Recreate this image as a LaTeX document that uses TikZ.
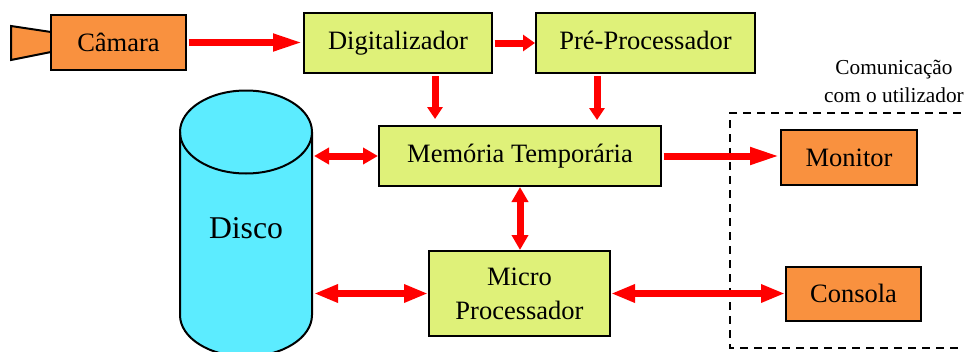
\documentclass[tikz,border=0pt]{standalone}
\usepackage{fontspec}
\setmainfont{Liberation Serif}
\usetikzlibrary{arrows.meta}

\definecolor{caixa}{HTML}{DFF179}
\definecolor{laranja}{HTML}{F9913F}
\definecolor{disco}{HTML}{5CECFF}

\tikzset{
  bloco/.style={draw=black, line width=2pt, outer sep=1pt, inner sep=0pt, align=center, font=\fontsize{26.5}{34}\selectfont},
  proc/.style={bloco, fill=caixa},
  extern/.style={bloco, fill=laranja},
  flow/.style={draw=red, line width=7pt, shorten <=1.5pt, -{Triangle[length=30pt,width=16pt]}},
  flowshort/.style={draw=red, line width=7pt, shorten <=1.5pt, -{Triangle[length=12pt,width=16pt]}},
  flowdown/.style={draw=red, line width=7pt, -{Triangle[length=12pt,width=15pt]}},
  flowboth/.style={draw=red, line width=7pt, {Triangle[length=15pt,width=16pt]}-{Triangle[length=15pt,width=16pt]}},
  flowlong/.style={draw=red, line width=7pt, {Triangle[length=24pt,width=17pt]}-{Triangle[length=24pt,width=17pt]}},
}

\begin{document}
\begin{tikzpicture}[x=1pt, y=-1pt]
\useasboundingbox (0,0) rectangle (964,351);
\clip (0,0) rectangle (964,351);
% camera body
\draw[line width=2pt, fill=laranja] (51,32) -- (11,26) -- (11,60) -- (51,52) -- cycle;
\node[extern, minimum width=135pt, minimum height=55pt] (camara) at (118.5,42.5) {Câmara};
\node[proc, minimum width=188pt, minimum height=60pt] (digit) at (398,43) {Digitalizador};
\node[proc, minimum width=219pt, minimum height=60pt, text depth=6pt] (preproc) at (645.5,43) {Pré-Processador};
\node[proc, minimum width=282pt, minimum height=60pt] (memoria) at (520,156) {Memória Temporária};
\node[proc, minimum width=181pt, minimum height=85pt] (micro) at (519.5,293.5) {Micro\\Processador};
% user side
\draw[line width=1.6pt, dash pattern=on 8pt off 6pt] (975,113) -- (730,113) -- (730,348) -- (975,348);
\node[font=\fontsize{21.3}{28}\selectfont, align=center, inner sep=0pt] (utiliz) at (894,81) {Comunicação\\com o utilizador};
\node[extern, minimum width=136pt, minimum height=55pt] (monitor) at (849,157.5) {Monitor};
\node[extern, minimum width=135pt, minimum height=54pt] (consola) at (853.5,293.5) {Consola};
% disk
\draw[line width=2pt, fill=disco] (180,132) -- (180,315) arc[start angle=180, end angle=0, x radius=66, y radius=41.5] -- (312,132) arc[start angle=0, end angle=-180, x radius=66, y radius=41.5] -- cycle;
\draw[line width=2pt] (180,132) arc[start angle=180, end angle=0, x radius=66, y radius=41.5];
\node[font=\fontsize{31.7}{36}\selectfont, inner sep=0pt] (disco) at (246,228) {Disco};
\coordinate (discoa) at (314,156);
\coordinate (discob) at (314,293.5);
% connectors
\draw[flow] (camara.east) -- (digit.west |- camara.east);
\draw[flowshort] (digit.east) -- (preproc.west);
\draw[flowdown] ([xshift=37pt,yshift=-2pt]digit.south) -- ([xshift=-85pt,yshift=6pt]memoria.north);
\draw[flowdown] ([xshift=-48.5pt,yshift=-2pt]preproc.south) -- ([xshift=77pt,yshift=5pt]memoria.north);
\draw[flowboth] (discoa) -- (memoria.west);
\draw[flow] (memoria.east) -- (monitor.west |- memoria.east);
\draw[flowboth] (memoria.south) -- (micro.north -| memoria.south);
\draw[flowlong] (discob) -- (micro.west);
\draw[flowlong] (micro.east) -- (consola.west);
\end{tikzpicture}
\end{document}
